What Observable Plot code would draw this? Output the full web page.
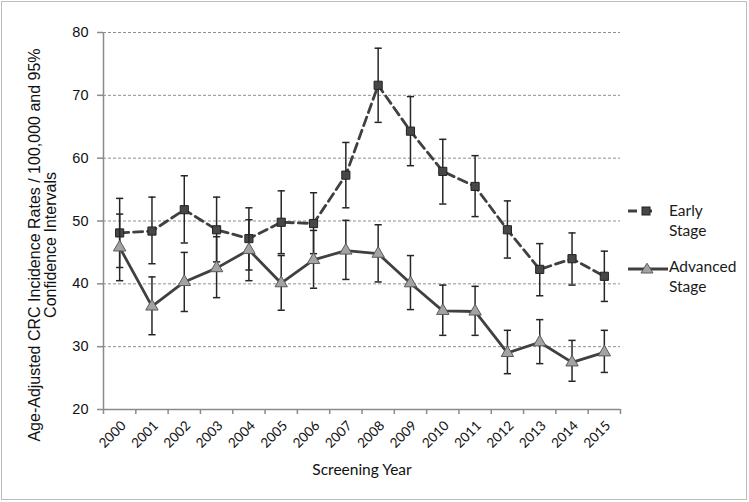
<!DOCTYPE html>
<html>
<head>
<meta charset="utf-8">
<script src="https://cdn.jsdelivr.net/npm/d3@7"></script>
<script src="https://cdn.jsdelivr.net/npm/@observablehq/plot@0.6"></script>
<style>
  html, body { margin: 0; padding: 0; background: #fff; }
  #wrap { position: relative; width: 749px; height: 502px; background: #fff; overflow: hidden; }
  #border { position: absolute; left: 1px; top: 1px; width: 744px; height: 497px; border: 1.5px solid #bdbdbd; pointer-events: none; }
  .leg { position: absolute; font-family: Lato, "Open Sans", sans-serif; font-size: 15.5px; line-height: 19.5px; color: #1a1a1a; }
  .legsw { position: absolute; }
</style>
</head>
<body>
<div id="wrap"></div>
<script>
// ---- data ----
const years = [2000, 2001, 2002, 2003, 2004, 2005, 2006, 2007, 2008, 2009, 2010, 2011, 2012, 2013, 2014, 2015];
const earlyRate = [48.1, 48.4, 51.8, 48.6, 47.2, 49.8, 49.6, 57.3, 71.6, 64.3, 57.9, 55.5, 48.6, 42.3, 44.0, 41.2];
const earlyLo   = [42.6, 43.2, 46.5, 43.5, 42.2, 44.8, 44.8, 52.1, 65.7, 58.8, 52.7, 50.7, 44.1, 38.1, 39.8, 37.2];
const earlyHi   = [53.6, 53.8, 57.2, 53.8, 52.1, 54.8, 54.5, 62.5, 77.5, 69.8, 63.0, 60.4, 53.2, 46.4, 48.1, 45.2];
const advRate   = [45.8, 36.4, 40.3, 42.5, 45.4, 40.1, 43.8, 45.3, 44.8, 40.1, 35.7, 35.6, 29.0, 30.7, 27.5, 29.1];
const advLo     = [40.5, 31.9, 35.6, 37.8, 40.5, 35.8, 39.3, 40.7, 40.3, 35.9, 31.8, 31.8, 25.7, 27.3, 24.5, 25.9];
const advHi     = [51.1, 41.1, 45.0, 47.5, 50.2, 44.5, 48.5, 50.1, 49.4, 44.5, 39.8, 39.6, 32.6, 34.3, 31.0, 32.6];
const yTicks = [20, 30, 40, 50, 60, 70, 80];
const seriesNames = ["Early Stage", "Advanced Stage"];
const yTitle = "Age-Adjusted CRC Incidence Rates / 100,000 and 95%\nConfidence Intervals";
const xTitle = "Screening Year";

const early = years.map((y, i) => ({year: y, v: earlyRate[i], lo: earlyLo[i], hi: earlyHi[i]}));
const adv = years.map((y, i) => ({year: y, v: advRate[i], lo: advLo[i], hi: advHi[i]}));
const edges = [years[0] - 0.5, ...years.map(y => y + 0.5)];

const cap = { draw(ctx, size) { const r = Math.sqrt(size / Math.PI); ctx.moveTo(-r, 0); ctx.lineTo(r, 0); } };

const ink = "#404040";
const barInk = "#262626";
const axisInk = "#8a8a8a";

function errorBars(data) {
  return [
    Plot.ruleX(data, {x: "year", y1: "lo", y2: "hi", stroke: barInk, strokeWidth: 1.5}),
    Plot.dot(data, {x: "year", y: "lo", symbol: cap, r: 3.6, stroke: barInk, strokeWidth: 1.5}),
    Plot.dot(data, {x: "year", y: "hi", symbol: cap, r: 3.6, stroke: barInk, strokeWidth: 1.5})
  ];
}

const chart = Plot.plot({
  width: 749,
  height: 502,
  marginTop: 32,
  marginBottom: 93,
  marginLeft: 103,
  marginRight: 129,
  style: {fontFamily: "'Liberation Sans', Arial, sans-serif", fontSize: "14px", color: "#111", background: "transparent"},
  x: {type: "linear", domain: [edges[0], edges[edges.length - 1]]},
  y: {domain: [yTicks[0], yTicks[yTicks.length - 1]]},
  marks: [
    Plot.gridY(yTicks.slice(1), {stroke: "#8f8f8f", strokeOpacity: 1, strokeDasharray: "3,2", strokeWidth: 1}),
    Plot.ruleX([edges[0]], {stroke: axisInk, strokeWidth: 1.5}),
    Plot.ruleY([yTicks[0]], {stroke: axisInk, strokeWidth: 1.5}),
    Plot.axisY({ticks: yTicks, tickSize: 6, tickPadding: 9, stroke: axisInk, strokeWidth: 1.5, fill: "#111", fontSize: 14.5, label: null}),
    Plot.axisX({ticks: edges, tickSize: 5, tickFormat: () => "", stroke: axisInk, strokeWidth: 1.5, label: null}),
    Plot.axisX({ticks: years, tickSize: 0, tickPadding: 14, tickRotate: -45, tickFormat: d => String(d), fontSize: 13.5, fontFamily: "Lato, sans-serif", fill: "#111", dx: 4, label: null}),
    Plot.text([yTitle], {text: d => d, frameAnchor: "left", textAnchor: "middle", rotate: -90, dx: -61, dy: 24, lineAnchor: "middle", lineHeight: 1.02, fontSize: 16, fill: "#111"}),
    Plot.text([xTitle], {text: d => d, frameAnchor: "bottom", textAnchor: "middle", dy: 65, fontSize: 15.5, fontFamily: "Lato, sans-serif", fill: "#111"}),
    Plot.line(early, {x: "year", y: "v", stroke: ink, strokeWidth: 2.8, strokeDasharray: "9,5"}),
    ...errorBars(early),
    Plot.dot(early, {x: "year", y: "v", symbol: "square", r: 4.6, fill: "#474747", stroke: "#222", strokeWidth: 1}),
    Plot.line(adv, {x: "year", y: "v", stroke: ink, strokeWidth: 2.8}),
    ...errorBars(adv),
    Plot.dot(adv, {x: "year", y: "v", symbol: "triangle", r: 4.6, fill: "#a3a3a3", stroke: "#5a5a5a", strokeWidth: 1})
  ]
});

const wrap = document.getElementById("wrap");
wrap.appendChild(chart);

// legend
const ns = "http://www.w3.org/2000/svg";
function swatch(left, top, kind) {
  const s = document.createElementNS(ns, "svg");
  s.setAttribute("width", 44); s.setAttribute("height", 18);
  s.setAttribute("class", "legsw");
  s.style.left = left + "px"; s.style.top = top + "px";
  if (kind === 0) {
    s.innerHTML = `<line x1="2" y1="9" x2="31" y2="9" stroke="${ink}" stroke-width="2.8" stroke-dasharray="9,6"/>` +
      `<rect x="16" y="5" width="8" height="8" fill="#474747" stroke="#222" stroke-width="1"/>`;
  } else {
    s.innerHTML = `<line x1="2" y1="9" x2="42" y2="9" stroke="${ink}" stroke-width="2.8"/>` +
      `<path d="M21,3.2 L27,13 L15,13 Z" fill="#a3a3a3" stroke="#5a5a5a" stroke-width="1"/>`;
  }
  wrap.appendChild(s);
}
swatch(626, 202, 0);
swatch(626, 260, 1);
const words = seriesNames.map(n => n.split(" "));
[[201, words[0]], [257, words[1]]].forEach(([top, w]) => {
  const d = document.createElement("div");
  d.className = "leg";
  d.style.left = "669px"; d.style.top = top + "px";
  d.innerHTML = w.join("<br>");
  wrap.appendChild(d);
});
const b = document.createElement("div");
b.id = "border";
wrap.appendChild(b);
</script>
</body>
</html>
